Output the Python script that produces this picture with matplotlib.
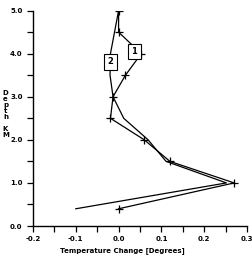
import matplotlib.pyplot as plt
from matplotlib.ticker import MultipleLocator

# curve 1 (with markers)
depth1 = [5.0, 4.5, 4.0, 3.5, 3.0, 2.5, 2.0, 1.5, 1.0, 0.4]
temp1 = [0.0, 0.0, 0.053, 0.016, -0.013, -0.019, 0.06, 0.12, 0.27, 0.0]

# curve 2 (no markers)
depth2 = [5.0, 4.0, 3.5, 3.0, 2.5, 2.0, 1.5, 1.0, 0.4]
temp2 = [0.0, -0.019, -0.02, -0.013, 0.012, 0.069, 0.111, 0.252, -0.1]

labels = ["1", "2"]
label_pos = [(0.037, 4.05), (-0.019, 3.81)]


def main():
    fig = plt.figure(figsize=(2.52, 2.58), dpi=100)
    ax = fig.add_axes([0.131, 0.124, 0.849, 0.835])

    ax.plot(temp1, depth1, color="black", lw=0.9, marker="+", ms=5.5, mew=0.9)
    ax.plot(temp2, depth2, color="black", lw=0.9)

    for lab, (x, y) in zip(labels, label_pos):
        ax.text(x, y, lab, ha="center", va="center", fontsize=6,
                fontweight="bold",
                bbox=dict(boxstyle="square,pad=0.4", fc="white", ec="black", lw=0.8))

    ax.set_xlim(-0.2, 0.3)
    ax.set_ylim(0.0, 5.0)
    ax.xaxis.set_major_locator(MultipleLocator(0.1))
    ax.xaxis.set_minor_locator(MultipleLocator(0.05))
    ax.yaxis.set_major_locator(MultipleLocator(1.0))
    ax.yaxis.set_minor_locator(MultipleLocator(0.5))
    ax.xaxis.set_major_formatter(lambda v, p: f"{v:.1f}")
    ax.yaxis.set_major_formatter(lambda v, p: f"{v:.1f}")

    for s in ["top", "right"]:
        ax.spines[s].set_visible(False)
    for s in ["left", "bottom"]:
        ax.spines[s].set_linewidth(1.0)

    ax.tick_params(which="both", direction="out", length=4, width=0.9, labelsize=5)
    for t in ax.get_xticklabels() + ax.get_yticklabels():
        t.set_fontweight("bold")

    ax.set_xlabel("Temperature Change [Degrees]", fontsize=5, fontweight="bold")
    ax.xaxis.set_label_coords(0.42, -0.1)
    fig.text(0.022, 0.56, "D\ne\np\nt\nh\n\nK\nM", ha="center", va="center",
             fontsize=5, fontweight="bold", linespacing=1.0)

    fig.savefig("out.png", dpi=100)


if __name__ == "__main__":
    main()
